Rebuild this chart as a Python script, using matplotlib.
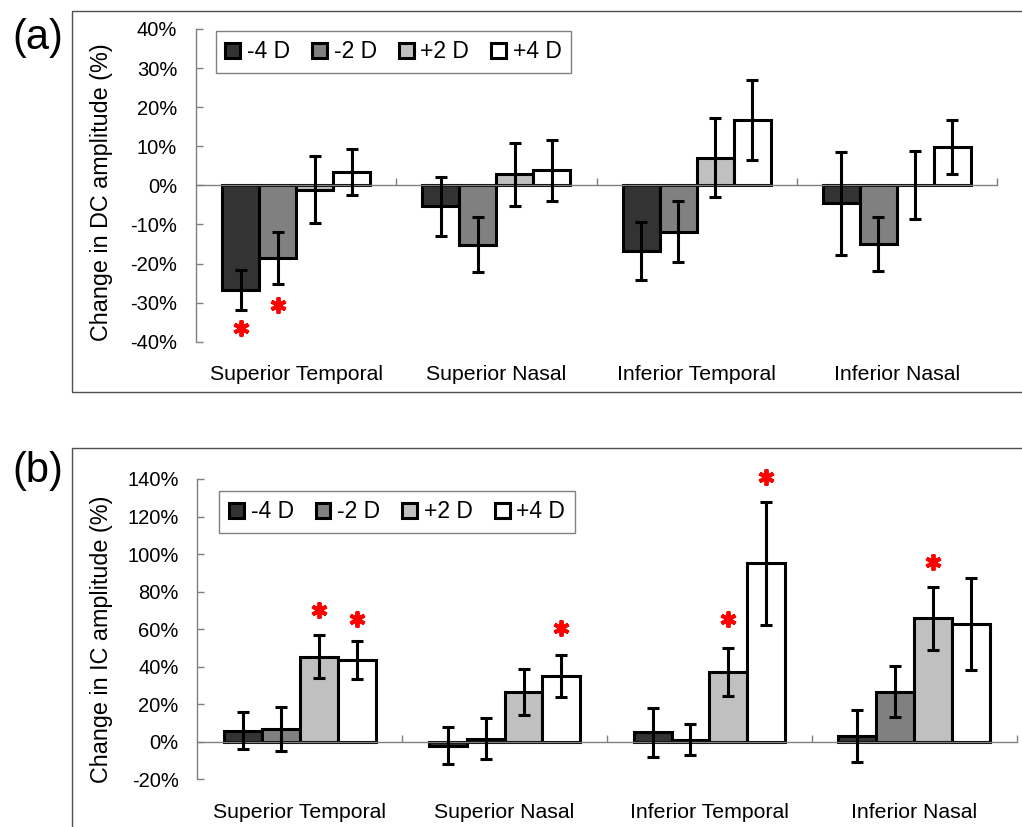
import matplotlib
matplotlib.use("Agg")
import matplotlib.pyplot as plt
import matplotlib.transforms as mtransforms
from matplotlib.patches import Rectangle, Patch
import numpy as np

plt.rcParams['font.family'] = ['Liberation Sans', 'DejaVu Sans']

categories = ['Superior Temporal', 'Superior Nasal', 'Inferior Temporal', 'Inferior Nasal']
series = ['-4 D', '-2 D', '+2 D', '+4 D']
colors = ['#333333', '#808080', '#c0c0c0', '#ffffff']

# Panel (a): change in DC amplitude (%)
dc_m4 = [-26.8, -5.4, -16.8, -4.6]
dc_m4_err = [5.2, 7.6, 7.4, 13.2]
dc_m2 = [-18.6, -15.2, -11.9, -15.0]
dc_m2_err = [6.7, 7.0, 7.8, 6.8]
dc_p2 = [-1.1, 2.8, 7.1, 0.2]
dc_p2_err = [8.6, 8.0, 10.2, 8.7]
dc_p4 = [3.5, 3.8, 16.8, 9.8]
dc_p4_err = [5.9, 7.8, 10.2, 6.9]

# Panel (b): change in IC amplitude (%)
ic_m4 = [6.0, -2.1, 5.0, 3.0]
ic_m4_err = [10.0, 9.8, 13.0, 14.0]
ic_m2 = [6.6, 1.6, 1.0, 26.7]
ic_m2_err = [11.7, 11.0, 8.2, 13.5]
ic_p2 = [45.3, 26.4, 37.3, 65.8]
ic_p2_err = [11.5, 12.2, 12.8, 16.8]
ic_p4 = [43.6, 34.9, 95.1, 62.9]
ic_p4_err = [10.3, 11.1, 32.7, 24.5]

# significance markers: (category index, series index, y position)
dc_stars = [(0, 0, -36.4), (0, 1, -30.7)]
ic_stars = [(0, 2, 70.2), (0, 3, 65.4), (1, 3, 60.4), (2, 2, 65.4),
            (2, 3, 141.2), (3, 2, 95.9)]

dc_ticks = [-40, -30, -20, -10, 0, 10, 20, 30, 40]
ic_ticks = [-20, 0, 20, 40, 60, 80, 100, 120, 140]

W, H = 1022, 827
fig = plt.figure(figsize=(W / 100, H / 100), dpi=100)

# outer frames
frame_col = '#505050'
fig.patches.append(Rectangle((71.7 / W, 1 - 392 / H), 1.2, (392 - 10.7) / H,
                             transform=fig.transFigure, fill=False,
                             edgecolor=frame_col, linewidth=1.0))
fig.patches.append(Rectangle((71.7 / W, -0.5), 1.2, 0.5 + (1 - 448.3 / H),
                             transform=fig.transFigure, fill=False,
                             edgecolor=frame_col, linewidth=1.0))

bw = 0.185
offsets = (np.arange(4) - 1.5) * bw


def panel(rect, vals, errs, stars, ticks, ylim, ylabel, ylab_y, label, label_y,
          leg_anchor, catlab_y):
    ax = fig.add_axes(rect)
    x = np.arange(len(categories))
    for i in range(4):
        ax.bar(x + offsets[i], vals[i], width=bw, color=colors[i],
               edgecolor='black', linewidth=2.2, zorder=2, label=series[i])
        ax.errorbar(x + offsets[i], vals[i], yerr=errs[i], fmt='none',
                    ecolor='black', elinewidth=2.2, capsize=4.5, capthick=2.2,
                    zorder=3)
    for (c, s, yv) in stars:
        ax.plot(c + offsets[s], yv, marker=(6, 2, 0), color='#ff0000',
                markersize=11.5, markeredgewidth=2.8, linestyle='none',
                clip_on=False, zorder=4)
    ax.set_xlim(-0.5, 3.5)
    ax.set_ylim(*ylim)
    ax.set_yticks(ticks)
    ax.set_yticklabels([f'{t}%' for t in ticks])
    ax.set_xticks([0.5, 1.5, 2.5, 3.5])
    ax.set_xticklabels([])
    for sp in ['top', 'right']:
        ax.spines[sp].set_visible(False)
    ax.spines['bottom'].set_position(('data', 0))
    ax.spines['bottom'].set_color('#808080')
    ax.spines['bottom'].set_linewidth(1.0)
    ax.spines['left'].set_color('#808080')
    ax.spines['left'].set_linewidth(1.0)
    ax.tick_params(axis='y', direction='in', length=5, width=1,
                   color='#808080', pad=13.5, labelsize=14.5)
    ax.tick_params(axis='x', direction='in', length=5, width=1,
                   color='#808080')
    ax.set_facecolor('none')
    trans = mtransforms.blended_transform_factory(ax.transData, ax.transAxes)
    for i, c in enumerate(categories):
        ax.text(i, catlab_y, c, transform=trans, ha='center', va='center',
                fontsize=15.3)
    fig.text(101.7 / W, 1 - ylab_y / H, ylabel, rotation=90, ha='center',
             va='center', fontsize=16.8)
    fig.text(37.5 / W, 1 - label_y / H, label, ha='center', va='center',
             fontsize=30)
    handles = [Patch(facecolor=colors[i], edgecolor='black', linewidth=2.2)
               for i in range(4)]
    leg = ax.legend(handles, series, ncol=4, loc='upper left',
                    bbox_to_anchor=leg_anchor, borderaxespad=0,
                    fontsize=16.5, handlelength=0.65, handleheight=0.65,
                    handletextpad=0.3, columnspacing=0.95, borderpad=0.42,
                    fancybox=False, framealpha=1, edgecolor='#808080')
    leg.get_frame().set_linewidth(1.0)
    return ax


ax1 = panel([196 / W, 1 - 341.7 / H, 801 / W, 312.7 / H],
            [dc_m4, dc_m2, dc_p2, dc_p4],
            [dc_m4_err, dc_m2_err, dc_p2_err, dc_p4_err],
            dc_stars, dc_ticks, (-40, 40), 'Change in DC amplitude (%)', 192.5,
            '(a)', 38, (0.0246, 0.9946), -0.1043)

ax2 = panel([197.3 / W, 1 - 779.3 / H, 819.4 / W, 300.3 / H],
            [ic_m4, ic_m2, ic_p2, ic_p4],
            [ic_m4_err, ic_m2_err, ic_p2_err, ic_p4_err],
            ic_stars, ic_ticks, (-20, 140), 'Change in IC amplitude (%)', 639,
            '(b)', 471, (0.0268, 0.961), -0.111)

fig.savefig('out.png', dpi=100)
